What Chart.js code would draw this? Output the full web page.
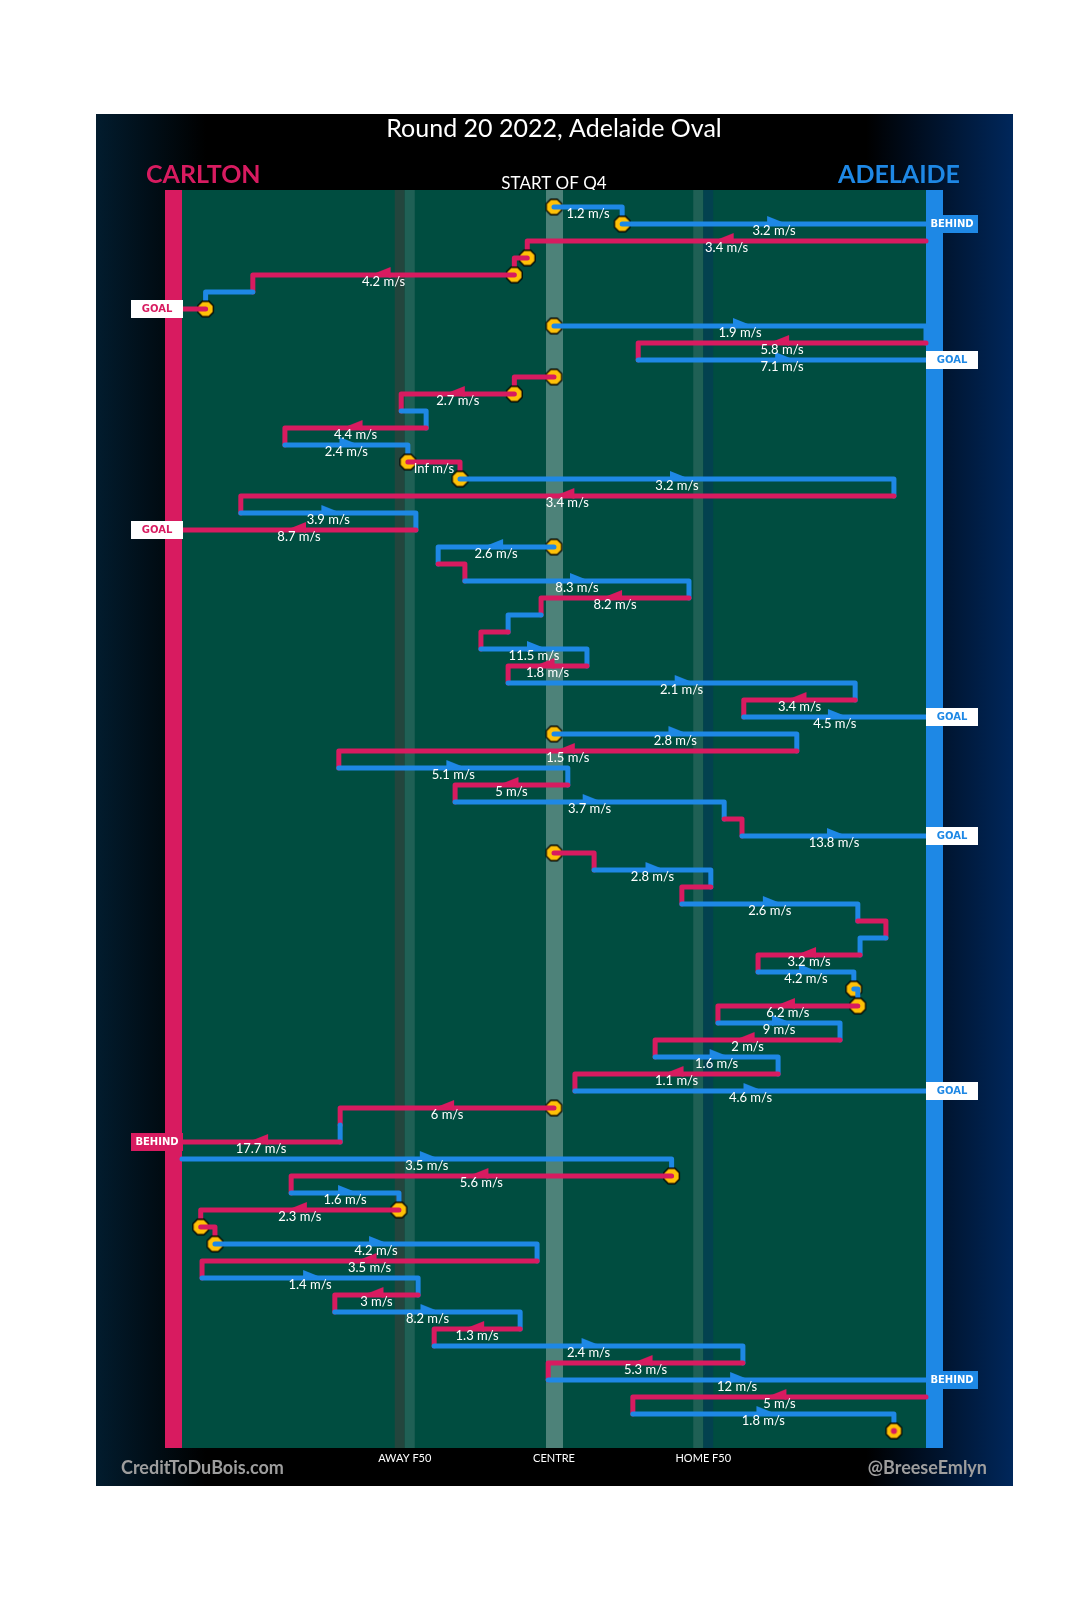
<!DOCTYPE html>
<html>
<head>
<meta charset="utf-8">
<script src="https://cdn.jsdelivr.net/npm/chart.js@4.4.0/dist/chart.umd.min.js"></script>
<style>
  html, body { margin: 0; padding: 0; background: #fff; }
  #chain { display: block; }
</style>
</head>
<body>
<canvas id="chain" width="1080" height="1615"></canvas>
<script>
// one row per chain step, top to bottom (x in metres from centre, Carlton goal at -83.5)
const teams = [
  'A','A','C','C','C','A','C','A','C','A',
  'C','C','A','C','A','C','A','C','A','C',
  'A','C','A','C','A','C','A','C','A','C',
  'A','A','C','A','C','A','C','A','C','A',
  'C','A','C','A','C','A','A','C','A','C',
  'A','C','A','C','A','C','A','C','A','C',
  'C','A','C','A','C','A','C','A','C','A',
  'C','A'
];
const endM = [
  15.3, 83.5, -6.0, -8.9, -67.6, -78.2, -83.5, 83.5, 18.9, 83.5,
  -8.9, -34.3, -28.7, -60.4, -32.8, -21.1, 76.3, -70.3, -31.0, -83.5,
  -26.0, -20.0, 30.3, -2.9, -10.3, -16.4, 7.4, -10.3, 67.6, 42.6,
  83.5, 54.5, -48.3, 3.1, -22.2, 38.2, 42.2, 83.5, 9.0, 35.2,
  28.7, 68.2, 74.5, 68.7, 45.8, 67.3, 68.2, 36.8, 64.2, 22.7,
  50.3, 4.7, 83.5, -48.0, -48.0, -83.5, 26.4, -59.0, -34.8, -79.3,
  -76.1, -3.8, -79.0, -30.5, -49.2, -7.6, -26.9, 42.4, -1.3, 83.5,
  17.7, 76.3
];
const speeds = [
  1.2, 3.2, 3.4, null, 4.2, null, null, 1.9, 5.8, 7.1,
  null, 2.7, null, 4.4, 2.4, Infinity, 3.2, 3.4, 3.9, 8.7,
  2.6, null, 8.3, 8.2, null, null, 11.5, 1.8, 2.1, 3.4,
  4.5, 2.8, 1.5, 5.1, 5, 3.7, null, 13.8, null, 2.8,
  null, 2.6, null, null, 3.2, 4.2, null, 6.2, 9, 2,
  1.6, 1.1, 4.6, 6, null, 17.7, 3.5, 5.6, 1.6, 2.3,
  null, 4.2, 3.5, 1.4, 3, 8.2, 1.3, 2.4, 5.3, 12,
  5, 1.8
];
const stopLevels = [0, 1, 3, 4, 6, 7, 10, 11, 15, 16, 20, 31, 38, 46, 47, 53, 57, 59, 60, 61];
const resultLevels = [1, 6, 9, 19, 30, 37, 52, 55, 69];
const resultTypes = ['BEHIND', 'GOAL', 'GOAL', 'GOAL', 'GOAL', 'GOAL', 'GOAL', 'BEHIND', 'BEHIND'];
const zoneValues = [-33.5, 0, 33.5];
const zoneNames = ['AWAY F50', 'CENTRE', 'HOME F50'];

const PINK = '#d81b60', BLUE = '#1e88e5', AMBER = '#ffc107', FIELD = '#004d40';
const colorOf = t => (t === 'C' ? PINK : BLUE);

function startOf(k) {
  if (k === 0) return 0;
  const r = resultLevels.indexOf(k - 1);
  if (r >= 0 && resultTypes[r] === 'GOAL') return 0;
  return endM[k - 1];
}

function makeOct(dot) {
  const c = document.createElement('canvas');
  c.width = 19; c.height = 19;
  const g = c.getContext('2d');
  g.beginPath();
  for (let i = 0; i < 8; i++) {
    const a = Math.PI / 8 + i * Math.PI / 4;
    const px = 9.5 + 8.4 * Math.cos(a), py = 9.5 + 8.4 * Math.sin(a);
    i ? g.lineTo(px, py) : g.moveTo(px, py);
  }
  g.closePath();
  g.fillStyle = AMBER; g.fill();
  g.lineWidth = 1.3; g.strokeStyle = '#000'; g.stroke();
  if (dot) { g.beginPath(); g.arc(9.5, 9.5, 3, 0, Math.PI * 2); g.fillStyle = PINK; g.fill(); }
  return c;
}

// arrow head sits mostly above the line, like the original
function makeArrow(col, right) {
  const c = document.createElement('canvas');
  c.width = 16; c.height = 16;
  const g = c.getContext('2d');
  g.beginPath();
  if (right) { g.moveTo(1, 0); g.lineTo(16, 6); g.lineTo(1, 11); }
  else { g.moveTo(15, 0); g.lineTo(0, 6); g.lineTo(15, 11); }
  g.closePath();
  g.fillStyle = col; g.fill();
  return c;
}

const octImg = makeOct(false), endImg = makeOct(true);
const arrowImg = {
  C: [makeArrow(PINK, false), makeArrow(PINK, true)],
  A: [makeArrow(BLUE, false), makeArrow(BLUE, true)]
};

const datasets = [];
for (let k = 0; k < endM.length; k++) {
  const s = startOf(k), e = endM[k];
  if (stopLevels.includes(k)) {
    datasets.push({
      data: [{ x: s, y: k }], pointStyle: octImg, pointRadius: 8,
      order: 1000 - k * 3 - 1, clip: false
    });
  }
  const pts = [{ x: s, y: k }, { x: e, y: k }];
  if (!resultLevels.includes(k)) pts.push({ x: e, y: k + 1 });
  datasets.push({
    data: pts, showLine: true, borderColor: colorOf(teams[k]), borderWidth: 5,
    borderJoinStyle: 'round', borderCapStyle: 'round', pointRadius: 0,
    order: 1000 - k * 3 - 2, clip: false
  });
}
datasets.push({
  data: [{ x: endM[endM.length - 1], y: endM.length }], pointStyle: endImg, pointRadius: 8,
  order: 10, clip: false
});

const arrowPts = [], arrowStyles = [];
speeds.forEach((v, k) => {
  const s = startOf(k), e = endM[k];
  if (v === null || Math.abs(e - s) < 15.5) return;
  arrowPts.push({ x: (s + e) / 2, y: k });
  arrowStyles.push(arrowImg[teams[k]][e > s ? 1 : 0]);
});
datasets.push({ data: arrowPts, pointStyle: arrowStyles, pointRadius: 6, order: 0, clip: false });

const backdrop = {
  id: 'backdrop',
  beforeDraw(chart) {
    const { ctx, chartArea: a, scales: { x } } = chart;
    ctx.save();
    ctx.fillStyle = '#fff';
    ctx.fillRect(0, 0, chart.width, chart.height);
    const L = a.left - 86, R = a.right + 87, T = a.top - 76, B = a.bottom + 38;
    const g = ctx.createLinearGradient(L, 0, R, 0);
    g.addColorStop(0, '#021c2e'); g.addColorStop(0.12, '#000');
    g.addColorStop(0.84, '#000'); g.addColorStop(1, '#00275b');
    ctx.fillStyle = g;
    ctx.fillRect(L, T, R - L, B - T);

    ctx.fillStyle = '#fff';
    ctx.textAlign = 'center';
    ctx.font = '25px Lato';
    ctx.fillText('Round 20 2022, Adelaide Oval', (a.left + a.right) / 2, T + 23);
    ctx.font = '17px Lato';
    ctx.fillText('START OF Q4', x.getPixelForValue(0), a.top - 1);
    ctx.font = 'bold 25px Lato';
    ctx.textAlign = 'left'; ctx.fillStyle = PINK;
    ctx.fillText('CARLTON', a.left - 36, a.top - 7);
    ctx.textAlign = 'right'; ctx.fillStyle = BLUE;
    ctx.fillText('ADELAIDE', a.right + 34, a.top - 7);

    ctx.fillStyle = FIELD;
    ctx.fillRect(a.left, a.top, a.width, a.height);
    const c0 = x.getPixelForValue(zoneValues[1]);
    ctx.fillStyle = 'rgba(255,255,255,0.3)';
    ctx.fillRect(c0 - 8, a.top, 17, a.height);
    const aw = x.getPixelForValue(zoneValues[0]), hm = x.getPixelForValue(zoneValues[2]);
    ctx.fillStyle = '#23453d'; ctx.fillRect(aw - 10, a.top, 10, a.height);
    ctx.fillStyle = '#1f6055'; ctx.fillRect(aw, a.top, 10, a.height);
    ctx.fillStyle = '#1f6055'; ctx.fillRect(hm - 10, a.top, 10, a.height);
    ctx.fillStyle = '#03414f'; ctx.fillRect(hm, a.top, 10, a.height);
    ctx.fillStyle = PINK; ctx.fillRect(a.left - 17, a.top, 17, a.height);
    ctx.fillStyle = BLUE; ctx.fillRect(a.right, a.top, 17, a.height);

    ctx.fillStyle = '#fff';
    ctx.textAlign = 'center';
    ctx.font = '11px Lato';
    zoneValues.forEach((v, i) => ctx.fillText(zoneNames[i], x.getPixelForValue(v), a.bottom + 14));
    ctx.font = 'bold 18px Lato';
    ctx.fillStyle = '#9e9e9e';
    ctx.textAlign = 'left';
    ctx.fillText('CreditToDuBois.com', a.left - 61, a.bottom + 26);
    ctx.textAlign = 'right';
    ctx.fillText('@BreeseEmlyn', a.right + 61, a.bottom + 26);
    ctx.restore();
  },
  afterDatasetsDraw(chart) {
    const { ctx, chartArea: a, scales: { x, y } } = chart;
    ctx.save();
    ctx.font = '13px Lato';
    ctx.fillStyle = '#fff';
    ctx.textAlign = 'center';
    ctx.textBaseline = 'alphabetic';
    speeds.forEach((v, k) => {
      if (v === null) return;
      const mid = (startOf(k) + endM[k]) / 2;
      ctx.fillText((isFinite(v) ? v : 'Inf') + ' m/s', x.getPixelForValue(mid), y.getPixelForValue(k) + 11);
    });
    ctx.font = 'bold 10px "DejaVu Sans"';
    ctx.textBaseline = 'middle';
    resultLevels.forEach((k, i) => {
      const py = y.getPixelForValue(k);
      const isAde = teams[k] === 'A';
      const team = isAde ? BLUE : PINK;
      const bx = isAde ? a.right : a.left - 51;
      const goal = resultTypes[i] === 'GOAL';
      ctx.fillStyle = goal ? '#fff' : team;
      ctx.fillRect(bx, py - 9, 52, 18);
      ctx.fillStyle = goal ? team : '#fff';
      ctx.fillText(resultTypes[i], bx + 26, py + 0.5);
    });
    ctx.restore();
  }
};

new Chart(document.getElementById('chain'), {
  type: 'scatter',
  data: { datasets },
  options: {
    responsive: false,
    animation: false,
    layout: { padding: { left: 182, right: 154, top: 190, bottom: 167 } },
    scales: {
      x: { type: 'linear', min: -83.5, max: 83.5, display: false },
      y: { type: 'linear', min: -1, max: 73, reverse: true, display: false }
    },
    plugins: { legend: { display: false }, tooltip: { enabled: false } }
  },
  plugins: [backdrop]
});
</script>
</body>
</html>
